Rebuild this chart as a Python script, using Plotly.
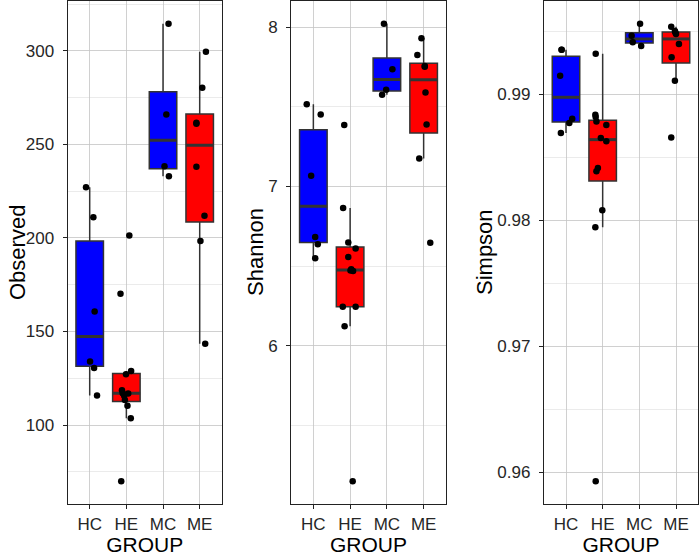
import numpy as np
import plotly.graph_objects as go

groups = ["HC", "HE", "MC", "ME"]
group_colors = ["#0000FF", "#FF0000", "#0000FF", "#FF0000"]

# ---- Observed ----
obs_HC = [227.1, 211.0, 160.6, 134.0, 130.5, 115.8]
obs_HE = [201.3, 170.2, 128.9, 127.1, 118.6, 117.0, 116.9, 115.6, 113.4, 110.3, 103.6, 70.0]
obs_MC = [314.4, 266.0, 238.3, 233.0]
obs_ME = [299.5, 280.2, 261.5, 261.0, 238.0, 211.9, 198.4, 143.4]
jit_obs_HC = [-0.10, 0.10, 0.135, 0.01, 0.12, 0.20]
jit_obs_HE = [0.08, -0.16, 0.13, -0.01, -0.12, -0.10, 0.05, -0.06, -0.04, 0.03, 0.12, -0.14]
jit_obs_MC = [0.15, 0.09, 0.04, 0.16]
jit_obs_ME = [0.17, 0.07, -0.09, -0.09, -0.09, 0.13, 0.02, 0.15]

# ---- Shannon ----
sha_HC = [7.515, 7.451, 7.067, 6.683, 6.637, 6.549]
sha_HE = [7.386, 6.865, 6.649, 6.610, 6.558, 6.480, 6.472, 6.470, 6.245, 6.245, 6.123, 5.151]
sha_MC = [8.020, 7.735, 7.607, 7.576]
sha_ME = [7.929, 7.825, 7.755, 7.751, 7.589, 7.388, 7.175, 6.647]
jit_sha_HC = [-0.18, 0.20, -0.06, 0.05, 0.12, 0.05]
jit_sha_HE = [-0.16, -0.19, -0.05, 0.15, -0.05, 0.03, 0.01, 0.08, -0.20, 0.15, -0.15, 0.07]
jit_sha_MC = [-0.08, 0.15, -0.02, -0.13]
jit_sha_ME = [-0.06, -0.17, 0.03, 0.03, 0.05, 0.08, -0.12, 0.18]

# ---- Simpson ----
sim_HC = [0.99352, 0.99351, 0.99145, 0.98804, 0.98770, 0.98691]
sim_HE = [0.99319, 0.98836, 0.98818, 0.98783, 0.98755, 0.98652, 0.98625, 0.98414, 0.98387, 0.98078, 0.97944, 0.95929]
sim_MC = [0.99557, 0.99462, 0.99412, 0.99382]
sim_ME = [0.99535, 0.99501, 0.99490, 0.99477, 0.99398, 0.99293, 0.99105, 0.98656]
jit_sim_HC = [-0.12, -0.12, -0.16, 0.17, 0.09, -0.14]
jit_sim_HE = [-0.19, -0.20, -0.19, -0.17, 0.10, -0.05, 0.10, -0.13, -0.17, -0.01, -0.20, -0.19]
jit_sim_MC = [0.02, -0.21, -0.18, 0.05]
jit_sim_ME = [-0.13, -0.03, -0.02, 0.0, 0.08, -0.12, -0.03, -0.13]

panels = [
    ("Observed", [obs_HC, obs_HE, obs_MC, obs_ME], [jit_obs_HC, jit_obs_HE, jit_obs_MC, jit_obs_ME], 50, 25, None),
    ("Shannon", [sha_HC, sha_HE, sha_MC, sha_ME], [jit_sha_HC, jit_sha_HE, jit_sha_MC, jit_sha_ME], 1, 0.5, None),
    ("Simpson", [sim_HC, sim_HE, sim_MC, sim_ME], [jit_sim_HC, jit_sim_HE, jit_sim_MC, jit_sim_ME], 0.01, 0.005, ".2f"),
]

W, H = 700, 556
M_T, M_B = 1, 52
x_domains = [(67.7, 221.7), (291.3, 445.7), (544.0, 698.0)]
ytitle_x = [17.5, 255.5, 484.5]

FONT = "Liberation Sans, Arial, sans-serif"
BOXW = 0.75
OUTLINE = "#333333"

def box_stats(v):
    a = np.asarray(v, dtype=float)
    q1, med, q3 = np.percentile(a, [25, 50, 75])
    iqr = q3 - q1
    lo = a[a >= q1 - 1.5 * iqr].min()
    hi = a[a <= q3 + 1.5 * iqr].max()
    return q1, med, q3, lo, hi

fig = go.Figure()
layout = {}
annotations = []
for p, (title, series, jits, dtick, mdtick, fmt) in enumerate(panels):
    xa = "x" if p == 0 else f"x{p+1}"
    ya = "y" if p == 0 else f"y{p+1}"
    for g, (vals, jit) in enumerate(zip(series, jits)):
        pos = g + 1
        q1, med, q3, lo, hi = box_stats(vals)
        fig.add_trace(go.Box(
            x=[pos], q1=[q1], median=[med], q3=[q3], lowerfence=[lo], upperfence=[hi],
            width=BOXW, fillcolor=group_colors[g], line=dict(color=OUTLINE, width=1.5),
            whiskerwidth=0, boxpoints=False, showlegend=False, hoverinfo="skip",
            xaxis=xa, yaxis=ya,
        ))
        fig.add_trace(go.Scatter(
            x=[pos - BOXW / 2, pos + BOXW / 2], y=[med, med], mode="lines",
            line=dict(color=OUTLINE, width=3), showlegend=False, hoverinfo="skip",
            xaxis=xa, yaxis=ya,
        ))
    for g, (vals, jit) in enumerate(zip(series, jits)):
        pos = g + 1
        fig.add_trace(go.Scatter(
            x=[pos + j for j in jit], y=vals, mode="markers",
            marker=dict(color="black", size=6.5), showlegend=False,
            xaxis=xa, yaxis=ya,
        ))
    allv = np.concatenate([np.asarray(s, float) for s in series])
    span = allv.max() - allv.min()
    yr = [allv.min() - 0.05 * span, allv.max() + 0.05 * span]
    d0, d1 = x_domains[p]
    layout["xaxis" if p == 0 else f"xaxis{p+1}"] = dict(
        domain=[d0 / W, d1 / W], range=[0.4, 4.6], anchor=ya,
        tickmode="array", tickvals=[1, 2, 3, 4], ticktext=groups,
        showgrid=True, gridcolor="#c4c4c4", gridwidth=0.8, zeroline=False,
        showline=True, mirror=True, linecolor="#222222", linewidth=1.2,
        ticks="outside", ticklen=4, tickcolor="#222222", tickwidth=1,
        tickfont=dict(family=FONT, size=17, color="#262626"),
        title=dict(text="GROUP", font=dict(family=FONT, size=21, color="black"), standoff=9),
        automargin=False, fixedrange=True,
    )
    layout["yaxis" if p == 0 else f"yaxis{p+1}"] = dict(
        domain=[0, 1], range=yr, anchor=xa,
        tickmode="linear", dtick=dtick, tick0=0, tickformat=fmt,
        showgrid=True, gridcolor="#c4c4c4", gridwidth=0.8, zeroline=False,
        minor=dict(dtick=mdtick, tick0=0, showgrid=True, gridcolor="#e6e6e6", gridwidth=0.8, ticks=""),
        showline=True, mirror=True, linecolor="#222222", linewidth=1.2,
        ticks="outside", ticklen=4, tickcolor="#222222", tickwidth=1,
        ticklabelstandoff=5,
        tickfont=dict(family=FONT, size=17, color="#262626"),
        automargin=False, fixedrange=True,
    )
    plot_h = H - M_T - M_B
    annotations.append(dict(
        text=title, textangle=-90, showarrow=False,
        xref="paper", yref="paper",
        x=ytitle_x[p] / W, y=(H - M_B - 252.5) / plot_h,
        xanchor="center", yanchor="middle",
        font=dict(family=FONT, size=22, color="black"),
    ))

fig.update_layout(
    width=W, height=H,
    margin=dict(l=0, r=0, t=M_T, b=M_B),
    paper_bgcolor="white", plot_bgcolor="white",
    showlegend=False,
    annotations=annotations,
    **layout,
)
fig.write_html(
    "out.html",
    config={"displayModeBar": False, "staticPlot": True},
    post_script="document.body.style.margin='0';document.body.style.overflow='hidden';",
)
